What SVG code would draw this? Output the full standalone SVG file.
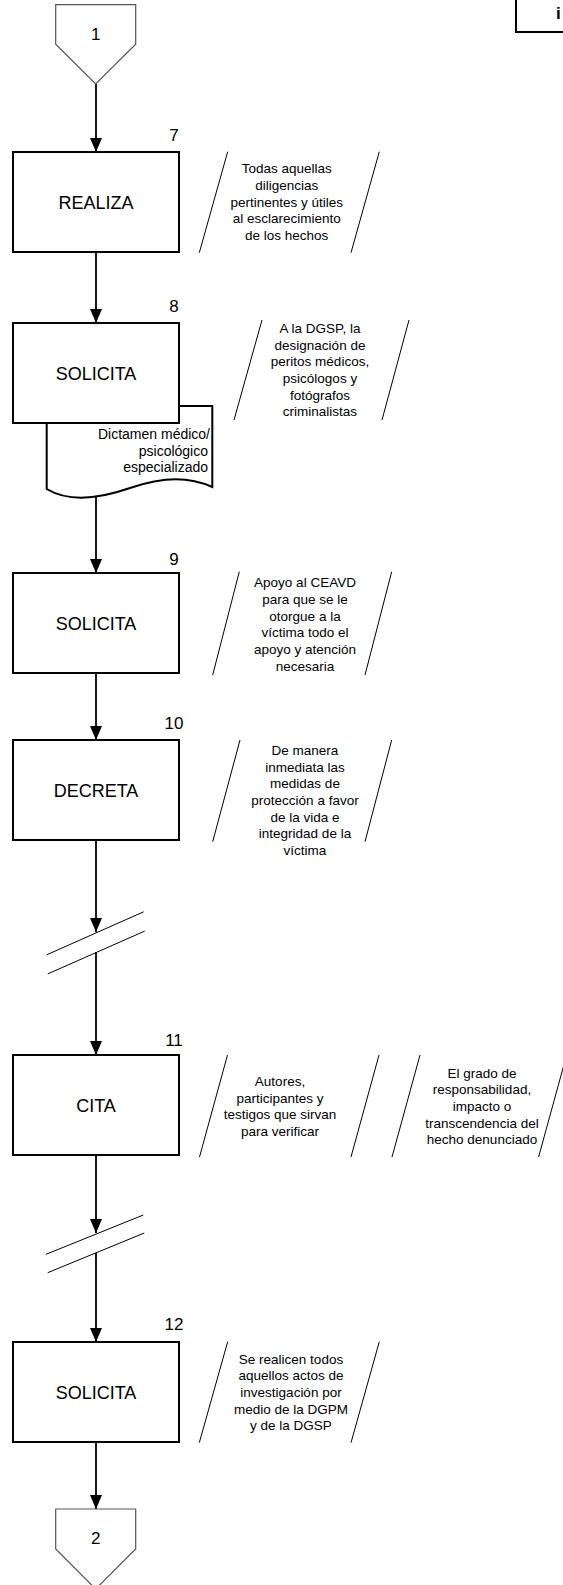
<svg xmlns="http://www.w3.org/2000/svg" width="563" height="1585" viewBox="0 0 563 1585">
<defs>
<marker id="arr" markerUnits="userSpaceOnUse" markerWidth="14" markerHeight="12" refX="14" refY="6" orient="auto">
<path d="M0,0 L14,6 L0,12 Z" fill="#000"/>
</marker>
<style>
text{font-family:"Liberation Sans",Arial,sans-serif;fill:#000}
.box{fill:#fff;stroke:#000;stroke-width:2}
.off{fill:#fff;stroke:#555;stroke-width:1.2}
.lbl{font-size:18px;text-anchor:middle}
.num{font-size:17px;text-anchor:middle}
.ann{font-size:13.5px;text-anchor:middle}
.doc{font-size:14px;text-anchor:end}
.sl{stroke:#000;stroke-width:1;fill:none}
.lnA{stroke:#000;stroke-width:1.8;fill:none;marker-end:url(#arr)}
</style>
</defs>
<rect width="563" height="1585" fill="#fff"/>

<g id="connectors">
<line class="lnA" x1="96" y1="84" x2="96" y2="152"/>
<line class="lnA" x1="96" y1="252" x2="96" y2="323"/>
<line class="lnA" x1="96" y1="490" x2="96" y2="573"/>
<line class="lnA" x1="96" y1="673" x2="96" y2="740"/>
<line class="lnA" x1="96" y1="840" x2="96" y2="932"/>
<line class="lnA" x1="96" y1="952" x2="96" y2="1055"/>
<line class="lnA" x1="96" y1="1155" x2="96" y2="1233"/>
<line class="lnA" x1="96" y1="1253" x2="96" y2="1342"/>
<line class="lnA" x1="96" y1="1442" x2="96" y2="1509"/>
</g>

<g id="break1">
<line class="sl" x1="46.7" y1="954.8" x2="143.6" y2="911.8"/>
<line class="sl" x1="47.8" y1="973.9" x2="144.7" y2="931.1"/>
</g>
<g id="break2">
<line class="sl" x1="46" y1="1254.3" x2="143.3" y2="1215"/>
<line class="sl" x1="47.7" y1="1272.7" x2="144.3" y2="1233"/>
</g>

<g id="title-box">
<rect x="516" y="-10" width="60" height="42" fill="#fff" stroke="#000" stroke-width="2"/>
<text x="556" y="19" style="font-size:17px;font-weight:bold">i</text>
</g>

<g id="offpage1">
<polygon class="off" points="55.7,4.7 135.7,4.7 135.7,44.3 95.7,84 55.7,44.3"/>
<text class="num" x="95.7" y="39.5">1</text>
</g>

<g id="step7">
<rect class="box" x="13" y="152" width="166" height="100"/>
<text class="lbl" x="96" y="208.5">REALIZA</text>
<text class="num" x="174" y="141">7</text>
</g>
<g id="note7">
<line class="sl" x1="227.7" y1="151.7" x2="199.3" y2="252.7"/>
<line class="sl" x1="379.3" y1="151.7" x2="351" y2="252.7"/>
<text class="ann" x="286.7" y="173.3">Todas aquellas</text>
<text class="ann" x="286.7" y="190">diligencias</text>
<text class="ann" x="286.7" y="206.7">pertinentes y útiles</text>
<text class="ann" x="286.7" y="223.4">al esclarecimiento</text>
<text class="ann" x="286.7" y="240.1">de los hechos</text>
</g>

<g id="doc8">
<path class="box" d="M46.7,406 H212.3 V487 C190,477 165,476 130,488 C90,502 65,500 46.7,489 Z"/>
<text class="doc" x="210" y="439">Dictamen médico/</text>
<text class="doc" x="208" y="455.7">psicológico</text>
<text class="doc" x="208" y="472.4">especializado</text>
</g>
<g id="step8">
<rect class="box" x="13" y="323" width="166" height="100"/>
<text class="lbl" x="96" y="379.5">SOLICITA</text>
<text class="num" x="174" y="312">8</text>
</g>
<g id="note8">
<line class="sl" x1="262" y1="320" x2="234" y2="420"/>
<line class="sl" x1="409" y1="320" x2="382" y2="420"/>
<text class="ann" x="320" y="332.8">A la DGSP, la</text>
<text class="ann" x="320" y="349.5">designación de</text>
<text class="ann" x="320" y="366.2">peritos médicos,</text>
<text class="ann" x="320" y="382.9">psicólogos y</text>
<text class="ann" x="320" y="399.6">fotógrafos</text>
<text class="ann" x="320" y="416.3">criminalistas</text>
</g>

<g id="step9">
<rect class="box" x="13" y="573" width="166" height="100"/>
<text class="lbl" x="96" y="629.5">SOLICITA</text>
<text class="num" x="174" y="565">9</text>
</g>
<g id="note9">
<line class="sl" x1="239.3" y1="571.7" x2="212.7" y2="675"/>
<line class="sl" x1="391.7" y1="571.7" x2="365" y2="675"/>
<text class="ann" x="305" y="587.3">Apoyo al CEAVD</text>
<text class="ann" x="305" y="604">para que se le</text>
<text class="ann" x="305" y="620.7">otorgue a la</text>
<text class="ann" x="305" y="637.4">víctima todo el</text>
<text class="ann" x="305" y="654.1">apoyo y atención</text>
<text class="ann" x="305" y="670.8">necesaria</text>
</g>

<g id="step10">
<rect class="box" x="13" y="740" width="166" height="100"/>
<text class="lbl" x="96" y="796.5">DECRETA</text>
<text class="num" x="174" y="728.5">10</text>
</g>
<g id="note10">
<line class="sl" x1="240" y1="740" x2="212.7" y2="841.7"/>
<line class="sl" x1="391.7" y1="740" x2="365" y2="841.7"/>
<text class="ann" x="305" y="754.9">De manera</text>
<text class="ann" x="305" y="771.6">inmediata las</text>
<text class="ann" x="305" y="788.3">medidas de</text>
<text class="ann" x="305" y="805">protección a favor</text>
<text class="ann" x="305" y="821.7">de la vida e</text>
<text class="ann" x="305" y="838.4">integridad de la</text>
<text class="ann" x="305" y="855.1">víctima</text>
</g>

<g id="step11">
<rect class="box" x="13" y="1055" width="166" height="100"/>
<text class="lbl" x="96" y="1111.5">CITA</text>
<text class="num" x="174" y="1045.5">11</text>
</g>
<g id="note11a">
<line class="sl" x1="227.5" y1="1055" x2="199.5" y2="1157"/>
<line class="sl" x1="379" y1="1055" x2="351" y2="1157"/>
<text class="ann" x="280" y="1086">Autores,</text>
<text class="ann" x="280" y="1102.7">participantes y</text>
<text class="ann" x="280" y="1119.4">testigos que sirvan</text>
<text class="ann" x="280" y="1136.1">para verificar</text>
</g>
<g id="note11b">
<line class="sl" x1="420" y1="1055" x2="392" y2="1157"/>
<line class="sl" x1="566.6" y1="1055" x2="538.6" y2="1157"/>
<text class="ann" x="482" y="1077.6">El grado de</text>
<text class="ann" x="482" y="1094.3">responsabilidad,</text>
<text class="ann" x="482" y="1111">impacto o</text>
<text class="ann" x="482" y="1127.7">transcendencia del</text>
<text class="ann" x="482" y="1144.4">hecho denunciado</text>
</g>

<g id="step12">
<rect class="box" x="13" y="1342" width="166" height="100"/>
<text class="lbl" x="96" y="1398.5">SOLICITA</text>
<text class="num" x="174" y="1330">12</text>
</g>
<g id="note12">
<line class="sl" x1="227.7" y1="1341.7" x2="199.3" y2="1442.7"/>
<line class="sl" x1="379.3" y1="1341.7" x2="351" y2="1442.7"/>
<text class="ann" x="291" y="1363.6">Se realicen todos</text>
<text class="ann" x="291" y="1380.3">aquellos actos de</text>
<text class="ann" x="291" y="1397">investigación por</text>
<text class="ann" x="291" y="1413.7">medio de la DGPM</text>
<text class="ann" x="291" y="1430.4">y de la DGSP</text>
</g>

<g id="offpage2">
<polygon class="off" points="55.7,1509 135.7,1509 135.7,1549 95.7,1589 55.7,1549"/>
<text class="num" x="95.7" y="1544">2</text>
</g>
</svg>
